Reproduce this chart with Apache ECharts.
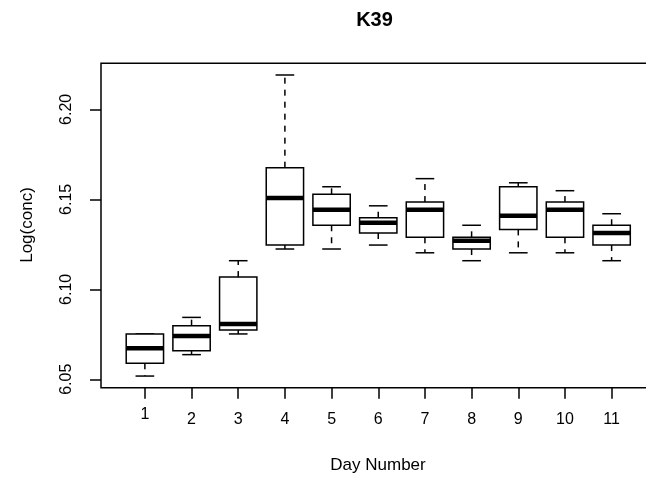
<!DOCTYPE html>
<html>
<head>
<meta charset="utf-8">
<title>K39</title>
<script src="https://cdn.jsdelivr.net/npm/echarts@6/dist/echarts.min.js"></script>
<style>
  html, body { margin: 0; padding: 0; background: #fff; }
  #chart { width: 646px; height: 480px; }
</style>
</head>
<body>
<div id="chart"></div>
<script>
// Day numbers on the x axis
var days = [1, 2, 3, 4, 5, 6, 7, 8, 9, 10, 11];

// Five-number summaries of log concentration per day
var lowerWhisker = [6.0518, 6.0637, 6.0752, 6.1224, 6.1224, 6.1246, 6.1203, 6.1159, 6.1203, 6.1203, 6.1159];
var lowerQuartile = [6.0589, 6.0659, 6.0774, 6.1246, 6.1356, 6.1313, 6.1289, 6.1224, 6.1333, 6.1289, 6.1246];
var medians = [6.0672, 6.0741, 6.0807, 6.1507, 6.1442, 6.1370, 6.1442, 6.1270, 6.1409, 6.1442, 6.1313];
var upperQuartile = [6.0752, 6.0798, 6.1068, 6.1676, 6.1528, 6.1398, 6.1485, 6.1289, 6.1570, 6.1485, 6.1356];
var upperWhisker = [6.0752, 6.0844, 6.1159, 6.2191, 6.1570, 6.1464, 6.1615, 6.1356, 6.1592, 6.1548, 6.1420];

// Tick values shown on the axes
var yTicks = [6.05, 6.10, 6.15, 6.20];
var xTicks = days;

var rows = days.map(function (d, i) {
  return [d, lowerWhisker[i], lowerQuartile[i], medians[i], upperQuartile[i], upperWhisker[i]];
});

function renderBox(params, api) {
  var x = api.value(0);
  var lo = api.coord([x, api.value(1)]);
  var q1 = api.coord([x, api.value(2)]);
  var md = api.coord([x, api.value(3)]);
  var q3 = api.coord([x, api.value(4)]);
  var hi = api.coord([x, api.value(5)]);
  var half = api.size([0.4, 0])[0];
  var cap = half / 2;
  var cx = md[0];
  var line = { stroke: '#000', lineWidth: 1.5, fill: null };
  var dashed = { stroke: '#000', lineWidth: 1.5, lineDash: [6, 6], fill: null };
  return {
    type: 'group',
    children: [
      { type: 'line', shape: { x1: cx, y1: q3[1], x2: cx, y2: hi[1] }, style: dashed },
      { type: 'line', shape: { x1: cx, y1: q1[1], x2: cx, y2: lo[1] }, style: dashed },
      { type: 'line', shape: { x1: cx - cap, y1: hi[1], x2: cx + cap, y2: hi[1] }, style: line },
      { type: 'line', shape: { x1: cx - cap, y1: lo[1], x2: cx + cap, y2: lo[1] }, style: line },
      { type: 'rect', shape: { x: cx - half, y: q3[1], width: half * 2, height: q1[1] - q3[1] },
        style: { stroke: '#000', lineWidth: 1.5, fill: '#fff' } },
      { type: 'line', shape: { x1: cx - half, y1: md[1], x2: cx + half, y2: md[1] },
        style: { stroke: '#000', lineWidth: 4.5 } }
    ]
  };
}

var font = 'Liberation Sans, Arial, sans-serif';
var chart = echarts.init(document.getElementById('chart'), null, { renderer: 'canvas' });
chart.setOption({
  animation: false,
  backgroundColor: '#fff',
  textStyle: { fontFamily: font },
  grid: {
    left: 101, top: 63.3, width: 554.5, bottom: 92.3,
    outerBoundsMode: 'none',
    show: true, borderColor: '#000', borderWidth: 1.5, backgroundColor: 'transparent',
    containLabel: false
  },
  xAxis: {
    type: 'value', min: 0.06, max: 11.94,
    splitLine: { show: false },
    axisLine: { show: false },
    axisTick: { show: true, length: 11, customValues: xTicks, lineStyle: { color: '#000', width: 1.5 } },
    axisLabel: {
      customValues: xTicks, margin: 24, color: '#000', fontSize: 16, fontFamily: font,
      hideOverlap: false,
      formatter: function (v) { return v === 1 ? '{one|1}' : String(v); },
      rich: { one: { lineHeight: 6, fontSize: 16, color: '#000', fontFamily: font } }
    }
  },
  yAxis: {
    type: 'value', min: 6.04533, max: 6.2256,
    splitLine: { show: false },
    axisLine: { show: false },
    axisTick: { show: true, length: 11, customValues: yTicks, lineStyle: { color: '#000', width: 1.5 } },
    axisLabel: {
      customValues: yTicks, margin: 26, rotate: 90, color: '#000', fontSize: 16, fontFamily: font,
      formatter: function (v) { return v.toFixed(2); }
    }
  },
  graphic: [
    { type: 'text', x: 374.5, y: 20, style: { text: 'K39', fill: '#000', font: 'bold 20px ' + font, align: 'center', verticalAlign: 'middle' } },
    { type: 'text', x: 378, y: 465, style: { text: 'Day Number', fill: '#000', font: '17px ' + font, align: 'center', verticalAlign: 'middle' } },
    { type: 'text', x: 27.5, y: 225, rotation: Math.PI / 2, style: { text: 'Log(conc)', fill: '#000', font: '17px ' + font, align: 'center', verticalAlign: 'middle' } }
  ],
  series: [{
    type: 'custom',
    renderItem: renderBox,
    encode: { x: 0, y: [1, 2, 3, 4, 5] },
    data: rows,
    clip: false
  }]
});
</script>
</body>
</html>
